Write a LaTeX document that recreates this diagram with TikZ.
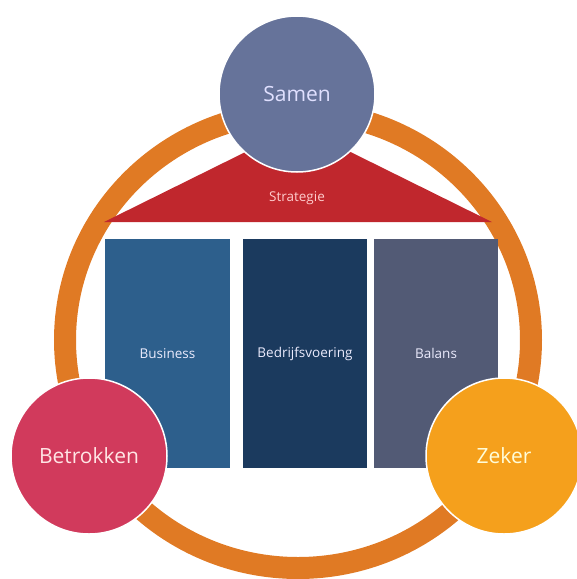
\documentclass[tikz,border=0pt]{standalone}
\usepackage{fontspec}
\setmainfont{Open Sans}
\definecolor{ringcol}{HTML}{E07A24}
\definecolor{samencol}{HTML}{66739A}
\definecolor{roofcol}{HTML}{C0272D}
\definecolor{businesscol}{HTML}{2D5F8C}
\definecolor{bedrijfcol}{HTML}{1B3A5E}
\definecolor{balanscol}{HTML}{525A75}
\definecolor{betrokkencol}{HTML}{D13A5C}
\definecolor{zekercol}{HTML}{F5A01C}
\tikzset{
  bigcircle/.style={shape=circle, draw=white, line width=1.5pt, minimum size=156pt, inner sep=0pt, font=\fontsize{21}{24}\selectfont},
  pillar/.style={shape=rectangle, minimum width=124pt, minimum height=229pt, inner sep=0pt, text=black!10!blue!8!white, font=\fontsize{13.5}{16}\selectfont}
}
\begin{document}
\begin{tikzpicture}[x=1pt,y=-1pt]
            \useasboundingbox (0,0) rectangle (577,579);
            \draw[ringcol, line width=22pt] (298,340) ellipse [x radius=233pt, y radius=228pt];

            \node[pillar, fill=businesscol, minimum width=125pt] (business) at (167.5,353.5) {Business};
            \node[pillar, fill=bedrijfcol] (bedrijf) at (305,353.5) {Bedrijfsvoering};
            \node[pillar, fill=balanscol] (balans) at (436,353.5) {Balans};

            \fill[roofcol] (104,222) -- (298,126) -- (492,222) -- cycle;
            \node[text=red!20!white, font=\fontsize{13.5}{16}\selectfont] (strategie) at (297,198) {Strategie};

            \node[bigcircle, fill=samencol, text=blue!12!white] (samen) at (297,94) {Samen};
            \node[bigcircle, fill=betrokkencol, text=red!10!white] (betrokken) at (89,456) {Betrokken};
            \node[bigcircle, fill=zekercol, text=yellow!15!white] (zeker) at (504,456) {Zeker};
        \end{tikzpicture}
\end{document}
